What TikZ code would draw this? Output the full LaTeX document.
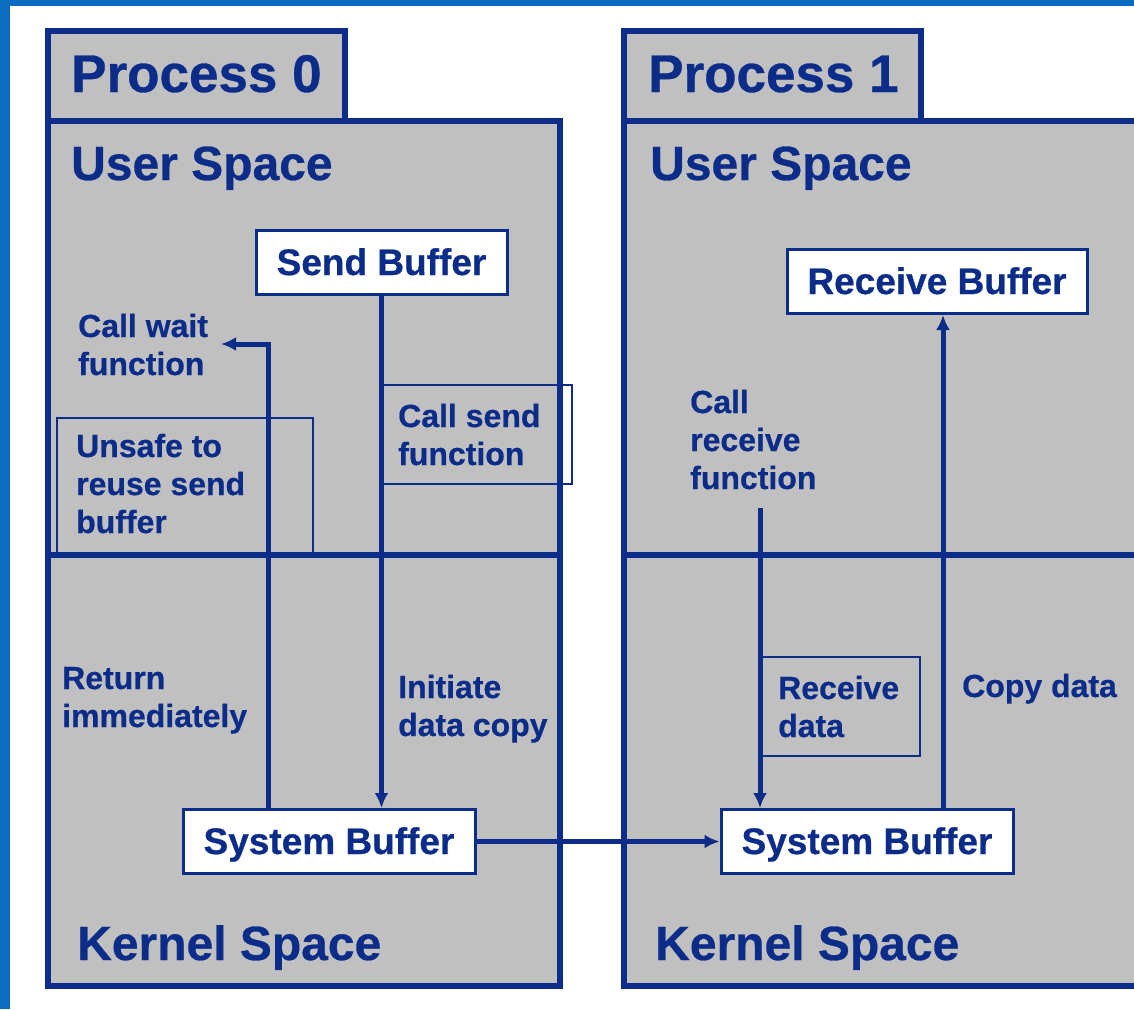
\documentclass[tikz,border=0pt]{standalone}
\usepackage{fontspec}
\setmainfont{Liberation Sans}[BoldFeatures={FakeBold=0.6}]
\usetikzlibrary{positioning, arrows.meta}

\definecolor{navy}{HTML}{0B2C89}
\definecolor{boxgray}{HTML}{C0C0C0}
\definecolor{frameblue}{HTML}{0B6DC1}

\begin{document}
\begin{tikzpicture}[x=1pt, y=-1pt]
      % Define styles for nodes
      \tikzset{
        container/.style={fill=boxgray, draw=navy, line width=6.5pt},
        divider/.style={draw=navy, line width=6pt},
        thinbox/.style={draw=navy, line width=2.5pt},
        bufbox/.style={rectangle, draw=navy, fill=white, line width=3pt, text=navy,
          font=\bfseries\fontsize{37}{44}\selectfont, text height=25pt, text depth=0pt,
          inner sep=0pt, minimum height=64pt},
        heading/.style={text=navy, font=\bfseries\fontsize{48}{56}\selectfont, inner sep=0pt, anchor=base west},
        procname/.style={heading, font=\bfseries\fontsize{53}{60}\selectfont},
        annotation/.style={text=navy, font=\bfseries\fontsize{32}{38}\selectfont, align=left,
          inner sep=0pt, anchor=base west},
        flow/.style={draw=navy, line width=5pt, -{Latex[length=15pt, width=14pt]}}
      }
      \useasboundingbox (0,0) rectangle (1134,1009);

      % Page frame
      \fill[frameblue] (0,0) rectangle (1134,6);
      \fill[frameblue] (0,0) rectangle (10,1009);

      % Process containers
      \filldraw[container] (48,31) rectangle (345,121);
      \filldraw[container] (48,121) rectangle (560,986);
      \filldraw[container] (624,31) rectangle (921,121);
      \filldraw[container] (624,121) rectangle (1137,986);
      \draw[divider] (48,555) -- (560,555);
      \draw[divider] (624,555) -- (1137,555);

      % Text frames
      \draw[thinbox] (57,418) rectangle (313,553);
      \draw[thinbox] (381,385) rectangle (572,484);
      \draw[thinbox] (762,657) rectangle (920,756);

      % Headings
      \node[procname] (proc0) at (71,92) {Process 0};
      \node[procname] (proc1) at (648,92) {Process 1};
      \node[heading] (user0) at (71,180) {User Space};
      \node[heading] (user1) at (650,180) {User Space};
      \node[heading] (kernel0) at (77,960) {Kernel Space};
      \node[heading] (kernel1) at (655,960) {Kernel Space};

      % Buffers
      \node[bufbox, minimum width=251pt] (sendbuf) at (381.5,262.5) {Send Buffer};
      \node[bufbox, minimum width=300pt] (recvbuf) at (937,281.5) {Receive Buffer};
      \node[bufbox, minimum width=292pt] (sysbuf0) at (329,841.5) {System Buffer};
      \node[bufbox, minimum width=292pt] (sysbuf1) at (867,841.5) {System Buffer};

      % Annotations (anchored at the baseline of their last line)
      \node[annotation] (lblwait) at (78,375) {Call wait\\function};
      \node[annotation] (lblunsafe) at (76,533) {Unsafe to\\reuse send\\buffer};
      \node[annotation] (lblsend) at (398,465) {Call send\\function};
      \node[annotation] (lblreturn) at (62,727) {Return\\immediately};
      \node[annotation] (lblinit) at (398,736) {Initiate\\data copy};
      \node[annotation] (lblcallrecv) at (690,489) {Call\\receive\\function};
      \node[annotation] (lblrecvdata) at (778,737) {Receive\\data};
      \node[annotation] (lblcopy) at (962,697) {Copy data};

      % Connectors
      \coordinate (waitturn) at (268,344);
      \coordinate (waitend) at (221,344);
      \coordinate (recvstart) at (760,508);
      \coordinate (copyline) at (943,0);
      \draw[flow] (sendbuf) -- (sendbuf |- sysbuf0.north);
      \draw[flow] (sysbuf0.north -| waitturn) -- (waitturn) -- (waitend);
      \draw[flow] (sysbuf0) -- (sysbuf1);
      \draw[flow] (recvstart) -- (recvstart |- sysbuf1.north);
      \draw[flow] (sysbuf1.north -| copyline) -- (recvbuf.south -| copyline);
    \end{tikzpicture}
\end{document}
